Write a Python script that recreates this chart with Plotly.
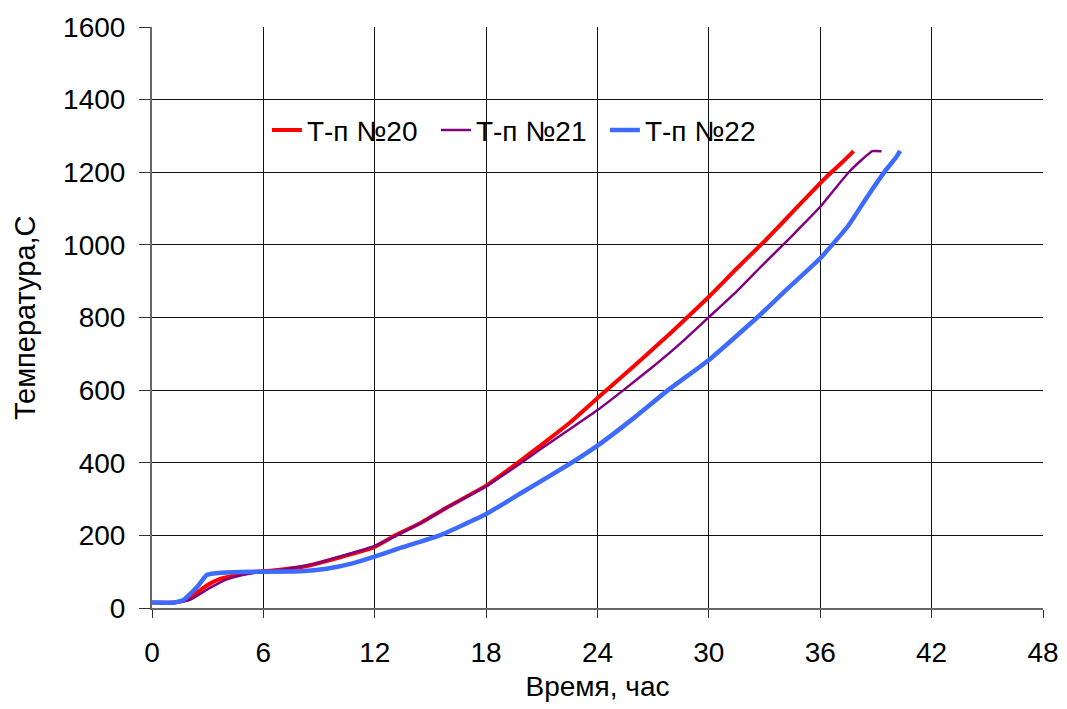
import plotly.graph_objects as go

# --- data ---
names = ["Т-п №20", "Т-п №21", "Т-п №22"]

t20 = [0, 1.2, 1.6, 2.0, 2.5, 2.95, 3.66, 4.4, 5.45, 6, 7, 8, 9, 10.1, 11, 11.9, 13.1, 14.5, 16, 18,
       19.7, 21, 22.5, 24, 26, 28, 30, 31.5, 33, 34, 35, 36, 36.5, 37.2, 37.8]
T20 = [15, 15, 19, 27, 45, 62, 80, 89, 99, 101, 106, 112, 124, 139, 152, 166, 200, 235, 280, 337,
       400, 450, 510, 578, 668, 760, 857, 935, 1010, 1063, 1117, 1170, 1195, 1228, 1258]

t21 = [0, 1.2, 1.7, 2.1, 2.5, 3.0, 3.5, 4.0, 5.0, 6, 7, 8, 9, 10, 11, 12, 13.2, 14.5, 16, 18,
       19.9, 21, 22.5, 24, 25.4, 27, 28.5, 30, 31.5, 33, 34.2, 35, 36, 37.5, 38.25, 38.8, 39.3]
T21 = [15, 15, 18, 24, 36, 52, 66, 78, 92, 100, 106, 114, 125, 140, 155, 171, 200, 235, 280, 335,
       400, 440, 492, 545, 600, 665, 730, 801, 872, 950, 1010, 1052, 1105, 1198, 1235, 1258, 1258]

t22 = [0, 1.2, 1.7, 2.05, 2.5, 2.95, 3.3, 4.0, 5.45, 6, 8, 9.4, 10.8, 11.9, 13.3, 15.5, 18, 20,
       22.6, 24, 26, 27.8, 30, 32.6, 34, 36, 37.5, 38.5, 39.55, 40.1, 40.3]
T22 = [15, 15, 22, 38, 62, 91, 95, 98, 100, 100, 101, 108, 123, 140, 164, 200, 259, 320,
       400, 447, 525, 600, 683, 800, 868, 963, 1052, 1130, 1207, 1242, 1259]

x_ticks = [0, 6, 12, 18, 24, 30, 36, 42, 48]
y_ticks = [0, 200, 400, 600, 800, 1000, 1200, 1400, 1600]
x_title = "Время, час"
y_title = "Температура,С"

colors = ["#FF0000", "#800080", "#3D6BFF"]
widths = [4, 2.5, 4.5]

FONT = "Liberation Sans, Arial, sans-serif"

fig = go.Figure()
for name, xs, ys, c, w in zip(names, [t20, t21, t22], [T20, T21, T22], colors, widths):
    fig.add_trace(go.Scatter(x=xs, y=ys, mode="lines", name=name,
                             line=dict(color=c, width=w, shape="spline", smoothing=0.4)))

fig.update_layout(
    width=1067, height=709,
    paper_bgcolor="white", plot_bgcolor="white",
    margin=dict(l=144, r=32, t=19, b=109, autoexpand=False),
    font=dict(family=FONT, size=28, color="black"),
    showlegend=True,
    legend=dict(orientation="h", x=0.129, y=0.822, xanchor="left", yanchor="middle",
                bgcolor="rgba(255,255,255,0)", font=dict(size=28),
                entrywidth=124, entrywidthmode="pixels", itemwidth=30),
)
fig.add_annotation(text=y_title, xref="paper", yref="paper", x=-0.143, y=0.5,
                   xanchor="center", yanchor="middle", textangle=-90, showarrow=False,
                   font=dict(family=FONT, size=29, color="black"))
fig.update_xaxes(range=[0, 48], tickvals=x_ticks, ticktext=[str(v) for v in x_ticks],
                 showgrid=True, gridcolor="#111111", gridwidth=1,
                 showline=True, linecolor="#666666", linewidth=2,
                 ticks="outside", ticklen=8, tickcolor="#333333",
                 ticklabelstandoff=10, automargin=False,
                 title=dict(text=x_title, standoff=10, font=dict(size=28)),
                 zeroline=False)
fig.update_yaxes(range=[0, 1600], tickvals=y_ticks, ticktext=[str(v) for v in y_ticks],
                 showgrid=True, gridcolor="#111111", gridwidth=1,
                 showline=True, linecolor="#666666", linewidth=2,
                 ticks="outside", ticklen=11, tickcolor="#333333",
                 ticklabelstandoff=8, automargin=False,
                 zeroline=False)

fig.write_html("out.html")
